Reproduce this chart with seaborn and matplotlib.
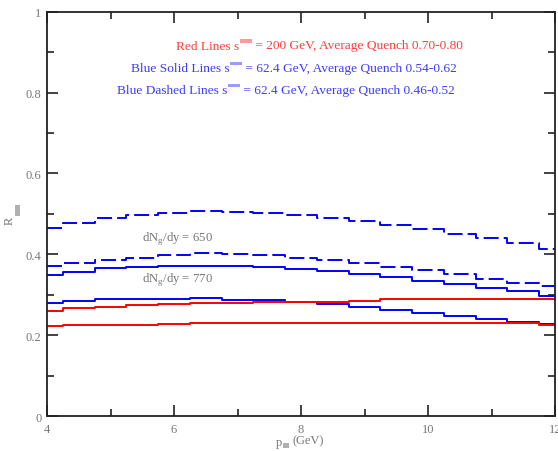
import numpy as np
import pandas as pd
import matplotlib
matplotlib.use("Agg")
import matplotlib.pyplot as plt
import seaborn as sns
from matplotlib.offsetbox import TextArea, DrawingArea, HPacker, AnnotationBbox
from matplotlib.patches import Rectangle

# transverse momentum bins (GeV)
pt = [4.0, 4.5, 5.0, 5.5, 6.0, 6.5, 7.0, 7.5, 8.0, 8.5, 9.0, 9.5, 10.0, 10.5, 11.0, 11.5, 12.0]

# Blue dashed: sqrt(s)=62.4 GeV, quench 0.46-0.52
blue_dash_650 = [0.464, 0.477, 0.490, 0.498, 0.503, 0.506, 0.505, 0.502, 0.498, 0.490, 0.483, 0.472, 0.462, 0.451, 0.440, 0.428, 0.414]
blue_dash_770 = [0.370, 0.379, 0.386, 0.392, 0.398, 0.402, 0.401, 0.399, 0.392, 0.386, 0.378, 0.369, 0.360, 0.350, 0.339, 0.330, 0.322]
# Blue solid: sqrt(s)=62.4 GeV, quench 0.54-0.62
blue_solid_650 = [0.349, 0.357, 0.365, 0.369, 0.370, 0.371, 0.371, 0.368, 0.364, 0.358, 0.351, 0.343, 0.335, 0.326, 0.317, 0.308, 0.298]
blue_solid_770 = [0.279, 0.284, 0.289, 0.289, 0.290, 0.291, 0.288, 0.286, 0.282, 0.276, 0.269, 0.262, 0.255, 0.247, 0.240, 0.232, 0.227]
# Red: sqrt(s)=200 GeV, quench 0.70-0.80
red_upper = [0.260, 0.266, 0.270, 0.275, 0.278, 0.279, 0.280, 0.281, 0.283, 0.283, 0.285, 0.289, 0.289, 0.289, 0.289, 0.289, 0.289]
red_lower = [0.222, 0.224, 0.225, 0.226, 0.228, 0.230, 0.230, 0.230, 0.230, 0.230, 0.230, 0.230, 0.230, 0.230, 0.230, 0.230, 0.226]

header_lines = [
    ("Red Lines s", " = 200 GeV, Average Quench 0.70-0.80", "#ff3b3b", "#ff9a9a"),
    ("Blue Solid Lines s", " = 62.4 GeV, Average Quench 0.54-0.62", "#3b3bff", "#9a9aff"),
    ("Blue Dashed Lines s", " = 62.4 GeV, Average Quench 0.46-0.52", "#3b3bff", "#9a9aff"),
]
density_labels = ["dN$_{\\rm g}$/dy = 650", "dN$_{\\rm g}$/dy = 770"]

xticks = [4, 6, 8, 10, 12]
yticks = [0, 0.2, 0.4, 0.6, 0.8, 1]
ytick_labels = ["0", "0.2", "0.4", "0.6", "0.8", "1"]

sns.set_theme(style="ticks")
plt.rcParams["font.family"] = ["Liberation Serif", "DejaVu Serif"]
plt.rcParams["mathtext.fontset"] = "custom"
plt.rcParams["mathtext.rm"] = "Liberation Serif"

W, H = 558, 452
fig = plt.figure(figsize=(W / 100, H / 100), dpi=100)
ax = fig.add_axes([47 / W, 1 - 417 / H, (555 - 47) / W, (417 - 12.7) / H])

frames = [
    (blue_dash_650, "blue", (7.7, 2.6)),
    (blue_dash_770, "blue", (7.7, 2.6)),
    (blue_solid_650, "blue", None),
    (blue_solid_770, "blue", None),
    (red_upper, "red", None),
    (red_lower, "red", None),
]
for vals, col, dash in frames:
    df = pd.DataFrame({"pt": pt, "R": vals})
    line = sns.lineplot(data=df, x="pt", y="R", ax=ax, color=col, lw=1.4,
                        drawstyle="steps-mid").lines[-1]
    if dash:
        line.set_dashes(dash)

ax.set_xlim(4, 12)
ax.set_ylim(0, 1)
ax.set_xticks(xticks)
ax.set_xticklabels([str(t) for t in xticks])
ax.set_yticks(yticks)
ax.set_yticklabels(ytick_labels)
ax.set_xticks([5, 7, 9, 11], minor=True)
ax.set_yticks([0.1, 0.3, 0.5, 0.7, 0.9], minor=True)
ax.tick_params(which="both", direction="in", top=True, right=True, width=1.2,
               labelsize=9, labelcolor="#777777", color="#222222")
ax.tick_params(which="major", length=8)
ax.tick_params(which="minor", length=5)
ax.tick_params(axis="x", pad=5)
ax.tick_params(axis="y", pad=4)
for s in ax.spines.values():
    s.set_linewidth(1.3)
    s.set_color("#222222")
ax.set_xlabel("")
ax.set_ylabel("")

# header lines: text, superscript bar, text
right_px = [463, 457, 455]
y_px = [46.5, 69, 91]
for (pre, post, tc, bc), xr, yc in zip(header_lines, right_px, y_px):
    da = DrawingArea(9, 9, 0, 0)
    da.add_artist(Rectangle((0.5, 6.5), 8.5, 2.6, fc=bc, ec="none"))
    box = HPacker(children=[
        TextArea(pre, textprops=dict(color=tc, size=9.6)),
        da,
        TextArea(post, textprops=dict(color=tc, size=9.6)),
    ], align="center", pad=0, sep=0)
    ab = AnnotationBbox(box, (xr / W, 1 - yc / H), xycoords="figure fraction",
                        box_alignment=(1, 0.5), frameon=False, pad=0)
    fig.add_artist(ab)

# gluon density annotations
for lab, yc in zip(density_labels, [239, 280]):
    fig.text(142 / W, 1 - yc / H, lab, color="#777777", size=9.2, va="center", ha="left")

# axis titles with subscript bars
fig.text(10 / W, 1 - 221 / H, "R", color="#777777", size=9, rotation=90,
         ha="center", va="center")
fig.add_artist(Rectangle((15 / W, 1 - 217 / H), 5 / W, 11 / H,
                         transform=fig.transFigure, fc="#b0b0b0", ec="none"))
fig.text(276 / W, 1 - 443 / H, "p", color="#777777", size=9, ha="left", va="center")
fig.add_artist(Rectangle((283 / W, 1 - 449 / H), 6 / W, 5 / H,
                         transform=fig.transFigure, fc="#b0b0b0", ec="none"))
fig.text(292 / W, 1 - 441 / H, "(GeV)", color="#777777", size=9, ha="left", va="center")

fig.savefig("out.png", dpi=100)
